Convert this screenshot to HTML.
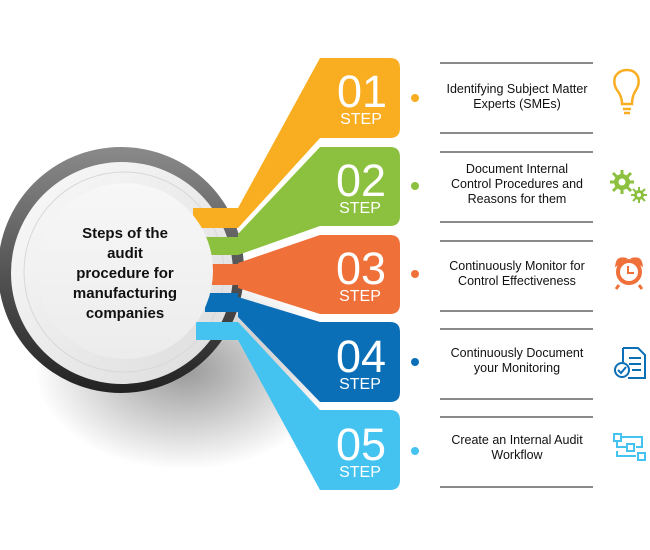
<!DOCTYPE html>
<html><head><style>
html,body{margin:0;padding:0;background:#fff;width:650px;height:550px;overflow:hidden}
svg{display:block}
</style></head><body>
<svg width="650" height="550" viewBox="0 0 650 550" xmlns="http://www.w3.org/2000/svg" font-family="Liberation Sans, sans-serif">
<defs>
<radialGradient id="sh" cx="0.5" cy="0.5" r="0.5"><stop offset="0" stop-color="#000" stop-opacity="0.4"/><stop offset="1" stop-color="#000" stop-opacity="0"/></radialGradient>
<linearGradient id="ring" x1="0" y1="0" x2="0" y2="1"><stop offset="0" stop-color="#8a8a8a"/><stop offset="0.5" stop-color="#555"/><stop offset="1" stop-color="#222"/></linearGradient>
<linearGradient id="wr" x1="0" y1="0" x2="1" y2="1"><stop offset="0" stop-color="#fafafa"/><stop offset="1" stop-color="#dcdcdc"/></linearGradient>
<linearGradient id="inn" x1="0" y1="0" x2="0" y2="1"><stop offset="0" stop-color="#f7f7f7"/><stop offset="1" stop-color="#ececec"/></linearGradient>
</defs>
<ellipse cx="185" cy="370" rx="150" ry="100" fill="url(#sh)"/>
<circle cx="121" cy="270" r="123" fill="url(#ring)"/>
<circle cx="122" cy="273" r="111" fill="url(#wr)"/>
<circle cx="124" cy="272" r="100" fill="none" stroke="#d8d8d8" stroke-width="1"/>
<rect x="193" y="208" width="45" height="20" fill="#f9ae22"/>
<rect x="200" y="237" width="38" height="18" fill="#8cc03f"/>
<rect x="205" y="264" width="33" height="21" fill="#f0703a"/>
<rect x="205" y="293" width="33" height="19" fill="#0b6fb8"/>
<rect x="196" y="322" width="42" height="18" fill="#45c3f0"/>
<circle cx="125" cy="271" r="88" fill="url(#inn)"/>
<path d="M320,58 L390,58 Q400,58 400,68 L400,128 Q400,138 390,138 L320,138 L238,228 L238,208 Z" fill="#f9ae22"/>
<path d="M320,147 L390,147 Q400,147 400,157 L400,216 Q400,226 390,226 L320,226 L238,255 L238,234 Z" fill="#8cc03f"/>
<path d="M320,235 L390,235 Q400,235 400,245 L400,304 Q400,314 390,314 L320,314 L238,288 L238,263 Z" fill="#f0703a"/>
<path d="M320,322 L390,322 Q400,322 400,332 L400,392 Q400,402 390,402 L320,402 L238,317 L238,297 Z" fill="#0b6fb8"/>
<path d="M320,410 L390,410 Q400,410 400,420 L400,480 Q400,490 390,490 L320,490 L238,340 L238,322 Z" fill="#45c3f0"/>
<g fill="#fff" text-anchor="middle">
<text x="362" y="107" font-size="45">01</text><text x="361" y="124" font-size="16">STEP</text>
<text x="361" y="196" font-size="45">02</text><text x="360" y="213" font-size="16">STEP</text>
<text x="361" y="284" font-size="45">03</text><text x="360" y="301" font-size="16">STEP</text>
<text x="361" y="372" font-size="45">04</text><text x="360" y="389" font-size="16">STEP</text>
<text x="361" y="460" font-size="45">05</text><text x="360" y="477" font-size="16">STEP</text>
</g>
<g font-size="15" font-weight="bold" fill="#111" text-anchor="middle">
<text x="125" y="238">Steps of the</text>
<text x="125" y="258">audit</text>
<text x="125" y="278">procedure for</text>
<text x="125" y="298">manufacturing</text>
<text x="125" y="318">companies</text>
</g>
<g stroke="#444" stroke-width="1.3">
<line x1="440" y1="63" x2="593" y2="63"/><line x1="440" y1="133" x2="593" y2="133"/>
<line x1="440" y1="152" x2="593" y2="152"/><line x1="440" y1="222" x2="593" y2="222"/>
<line x1="440" y1="241" x2="593" y2="241"/><line x1="440" y1="311" x2="593" y2="311"/>
<line x1="440" y1="329" x2="593" y2="329"/><line x1="440" y1="399" x2="593" y2="399"/>
<line x1="440" y1="417" x2="593" y2="417"/><line x1="440" y1="487" x2="593" y2="487"/>
</g>
<circle cx="415" cy="98" r="4" fill="#f9ae22"/>
<circle cx="415" cy="186" r="4" fill="#8cc03f"/>
<circle cx="415" cy="274" r="4" fill="#f0703a"/>
<circle cx="415" cy="362" r="4" fill="#0b6fb8"/>
<circle cx="415" cy="451" r="4" fill="#45c3f0"/>
<g font-size="12.5" fill="#111" text-anchor="middle">
<text x="517" y="93">Identifying Subject Matter</text><text x="517" y="108">Experts (SMEs)</text>
<text x="517" y="173">Document Internal</text><text x="517" y="188">Control Procedures and</text><text x="517" y="203">Reasons for them</text>
<text x="517" y="270">Continuously Monitor for</text><text x="517" y="285">Control Effectiveness</text>
<text x="517" y="357">Continuously Document</text><text x="517" y="372">your Monitoring</text>
<text x="517" y="444">Create an Internal Audit</text><text x="517" y="459">Workflow</text>
</g>
<g fill="none" stroke="#f9ae22" stroke-width="2.5">
<path d="M622,104 Q622,96 617,90 Q613,84 615,77 Q619,70 627,70 Q635,70 638,77 Q640,84 636,90 Q632,96 632,104 Z"/>
<line x1="623" y1="109" x2="631" y2="109"/><line x1="624" y1="113" x2="630" y2="113"/>
</g>
<g fill="#8cc03f">
<circle cx="622" cy="182" r="8"/>
<g stroke="#8cc03f" stroke-width="3"><line x1="622" y1="170" x2="622" y2="194"/><line x1="610" y1="182" x2="634" y2="182"/><line x1="613" y1="173" x2="631" y2="191"/><line x1="631" y1="173" x2="613" y2="191"/></g>
<circle cx="622" cy="182" r="3.5" fill="#fff"/>
<circle cx="639" cy="195" r="5"/>
<g stroke="#8cc03f" stroke-width="2"><line x1="639" y1="187" x2="639" y2="203"/><line x1="631" y1="195" x2="647" y2="195"/><line x1="633" y1="189" x2="645" y2="201"/><line x1="645" y1="189" x2="633" y2="201"/></g>
<circle cx="639" cy="195" r="2" fill="#fff"/>
</g>
<g>
<circle cx="629" cy="272" r="11" fill="none" stroke="#f0703a" stroke-width="4"/>
<path d="M628,266 L628,273 L634,273" stroke="#f0703a" stroke-width="2" fill="none"/>
<path d="M617,264 Q618,258 624,259 Z M641,264 Q640,258 634,259 Z" fill="#f0703a" stroke="#f0703a" stroke-width="3"/>
<path d="M619,285 L616,289 M639,285 L642,289" stroke="#f0703a" stroke-width="3"/>
</g>
<g fill="none" stroke="#0b6fb8" stroke-width="2">
<path d="M623,348 L638,348 L645,355 L645,378 L628,378"/>
<line x1="629" y1="358" x2="641" y2="358"/><line x1="629" y1="364" x2="641" y2="364"/><line x1="632" y1="370" x2="641" y2="370"/>
<line x1="623" y1="348" x2="623" y2="362"/>
<circle cx="622" cy="370" r="7" fill="#fff"/>
<path d="M618,370 L621,373 L626,367"/>
</g>
<g fill="none" stroke="#45c3f0" stroke-width="2">
<rect x="614" y="434" width="7" height="7"/><rect x="627" y="444" width="7" height="7"/><rect x="638" y="453" width="7" height="7"/>
<path d="M621,437 L642,437 L642,447 L636,447"/><path d="M617,441 L617,447 L627,447"/><path d="M617,451 L617,456 L636,456"/>
</g>
</svg>
</body></html>
